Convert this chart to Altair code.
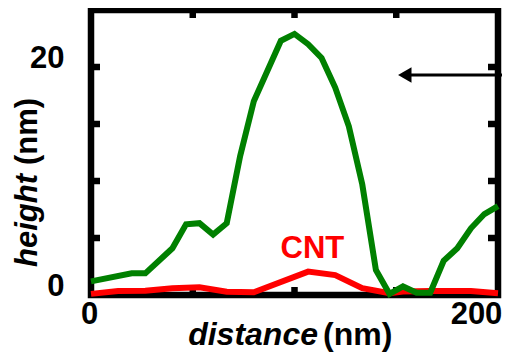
import altair as alt
import pandas as pd

# ---- data ----
green_x = [0, 20, 26.7, 40, 46.7, 53.3, 60, 66.7, 73.3, 80, 93.3, 100, 106.7, 113.3,
           120, 126.7, 133.3, 140, 146.7, 153.3, 160, 166.7, 173.3, 180, 186.7, 193.3, 200]
green_y = [1.2, 1.9, 1.9, 4.1, 6.2, 6.3, 5.3, 6.3, 12.2, 17.0, 22.3, 22.9, 22.0, 20.8,
           18.2, 14.8, 9.7, 2.2, 0.1, 0.75, 0.2, 0.2, 3.0, 4.1, 5.85, 7.1, 7.8]

red_x = [0, 13.3, 26.7, 40, 53.3, 66.7, 80, 106.7, 120, 133.3, 146.7, 153.3, 166.7, 186.7, 200]
red_y = [0.1, 0.35, 0.38, 0.6, 0.68, 0.29, 0.24, 2.05, 1.75, 0.6, 0.15, 0.3, 0.35, 0.35, 0.15]

x_ticks = [50, 100, 150]
y_ticks = [5, 10, 15, 20]
x_labels = [0, 200]
y_labels = [0, 20]

cnt_text = ["CNT"]
cnt_x = [108.8]
cnt_y = [3.25]

arrow_x = [154.2]
arrow_x2 = [212]
arrow_y = [19.3]

W, H = 407, 285
FONT = "Liberation Sans"

xs = alt.Scale(domain=[0, 200], nice=False, zero=False)
ys = alt.Scale(domain=[0, 25], nice=False, zero=False)

xaxis = alt.Axis(values=x_labels, title=None, domain=False, ticks=False, tickSize=0,
                 grid=False, labelFont=FONT, labelFontSize=31, labelFontWeight="bold",
                 labelColor="black", labelBaseline="alphabetic", labelPadding=28,
                 labelFlush=False,
                 labelOffset={"condition": {"test": "datum.value >= 200", "value": -22},
                              "value": -2})
yaxis = alt.Axis(values=y_labels, title=None, domain=False, ticks=False, tickSize=0,
                 grid=False, labelFont=FONT, labelFontSize=31, labelFontWeight="bold",
                 labelColor="black", labelBaseline="alphabetic", labelAlign="right",
                 labelPadding=27, labelFlush=False)


def X():
    return alt.X("x:Q", scale=xs, axis=xaxis)


def Y():
    return alt.Y("y:Q", scale=ys, axis=yaxis)


df_green = pd.DataFrame({"x": green_x, "y": green_y})
df_red = pd.DataFrame({"x": red_x, "y": red_y})
df_xt = pd.DataFrame({"x": x_ticks})
df_yt = pd.DataFrame({"y": y_ticks})
df_cnt = pd.DataFrame({"x": cnt_x, "y": cnt_y, "t": cnt_text})
df_arrow = pd.DataFrame({"x": arrow_x, "x2": arrow_x2, "y": arrow_y})

TW = 6.5

red = alt.Chart(df_red).mark_line(color="#ff0000", strokeWidth=6).encode(x=X(), y=Y())
green = alt.Chart(df_green).mark_line(color="#008000", strokeWidth=6).encode(x=X(), y=Y())

top_ticks = alt.Chart(df_xt).mark_rule(color="black", strokeWidth=TW).encode(
    x=X(), y=alt.value(0), y2=alt.value(8))
bot_ticks = alt.Chart(df_xt).mark_rule(color="black", strokeWidth=TW).encode(
    x=X(), y=alt.value(H), y2=alt.value(H - 8))
left_ticks = alt.Chart(df_yt).mark_rule(color="black", strokeWidth=TW).encode(
    y=Y(), x=alt.value(0), x2=alt.value(9))
right_ticks = alt.Chart(df_yt).mark_rule(color="black", strokeWidth=TW).encode(
    y=Y(), x=alt.value(W), x2=alt.value(W - 10))

cnt = alt.Chart(df_cnt).mark_text(font=FONT, fontSize=31, fontWeight="bold", color="#ff0000",
                                  align="center", baseline="alphabetic").encode(
    x=X(), y=Y(), text="t:N")

arrow_line = alt.Chart(df_arrow).mark_rule(color="black", strokeWidth=3).encode(
    x=X(), x2="x2:Q", y=Y())
arrow_head = alt.Chart(df_arrow).mark_point(shape="triangle-left", filled=True, size=240,
                                            color="black", opacity=1).encode(x=X(), y=Y())

# axis titles with mixed italic / upright parts
df_t1 = pd.DataFrame({"t": ["distance"]})
df_t2 = pd.DataFrame({"t": ["(nm)"]})
df_t3 = pd.DataFrame({"t": ["height"]})

xt1 = alt.Chart(df_t1).mark_text(font=FONT, fontSize=32, fontWeight="bold", fontStyle="italic",
                                 color="black", align="right", baseline="alphabetic").encode(
    text="t:N", x=alt.value(227), y=alt.value(335))
xt2 = alt.Chart(df_t2).mark_text(font=FONT, fontSize=32, fontWeight="bold",
                                 color="black", align="left", baseline="alphabetic").encode(
    text="t:N", x=alt.value(232), y=alt.value(335))
yt1 = alt.Chart(df_t3).mark_text(font=FONT, fontSize=31, fontWeight="bold", fontStyle="italic",
                                 color="black", align="right", baseline="alphabetic",
                                 angle=270).encode(
    text="t:N", x=alt.value(-54), y=alt.value(164))
yt2 = alt.Chart(df_t2).mark_text(font=FONT, fontSize=31, fontWeight="bold",
                                 color="black", align="left", baseline="alphabetic",
                                 angle=270).encode(
    text="t:N", x=alt.value(-54), y=alt.value(155))

chart = alt.layer(
    top_ticks, bot_ticks, left_ticks, right_ticks,
    red, green, cnt, arrow_line, arrow_head,
    xt1, xt2, yt1, yt2,
).properties(
    width=W, height=H,
    autosize=alt.AutoSizeParams(type="none"),
    padding={"left": 83, "top": 2, "right": 4, "bottom": 59},
).configure_view(stroke="black", strokeWidth=6.5)

chart.save("out.html", embed_options={"renderer": "svg", "actions": False})
